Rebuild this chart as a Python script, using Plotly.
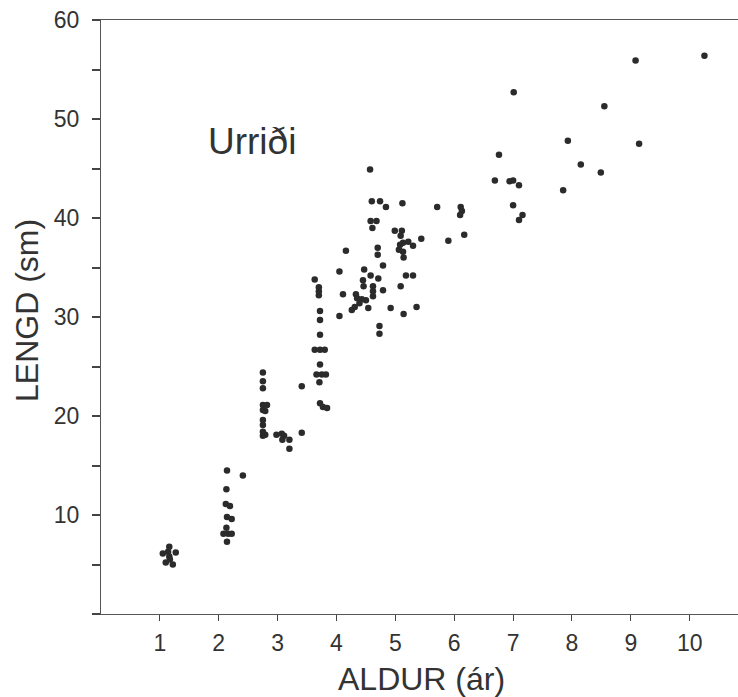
import plotly.graph_objects as go

# Age (years) and length (cm) of trout
age_1 = [1.16, 1.05, 1.14, 1.27, 1.16, 1.10, 1.22, 1.17]
len_1 = [6.8, 6.1, 6.3, 6.2, 5.8, 5.2, 5.0, 5.5]

age_2 = [2.14, 2.41, 2.13, 2.12, 2.19, 2.14, 2.22, 2.13, 2.08, 2.16, 2.22, 2.14]
len_2 = [14.5, 14.0, 12.6, 11.1, 10.9, 9.8, 9.6, 8.7, 8.1, 8.1, 8.1, 7.3]

age_3 = [2.75, 2.75, 2.75, 2.75, 2.82, 2.75, 2.79, 2.75, 2.75, 2.75, 2.79, 2.75,
         2.98, 3.07, 3.11, 3.08, 3.20, 3.20, 3.41, 3.41]
len_3 = [24.4, 23.5, 22.8, 21.1, 21.1, 20.6, 20.5, 19.6, 19.1, 18.4, 18.1, 18.0,
         18.1, 18.2, 18.0, 17.6, 17.6, 16.7, 18.3, 23.0]

age_4 = [3.63, 3.70, 3.70, 3.70, 3.72, 3.72, 3.72, 3.63, 3.72, 3.80, 3.72, 3.66,
         3.75, 3.82, 3.71, 3.72, 3.77, 3.84]
len_4 = [33.8, 33.0, 32.6, 32.2, 30.6, 29.7, 28.2, 26.7, 26.7, 26.7, 25.2, 24.2,
         24.2, 24.2, 23.4, 21.3, 20.9, 20.8]

age_5 = [4.57, 4.60, 4.74, 4.84, 5.12, 4.58, 4.68, 4.61, 4.99, 5.11, 5.09, 5.44,
         5.08, 5.13, 5.22, 5.30, 5.06, 5.13, 5.14, 4.16, 4.70, 4.70, 4.79, 4.05,
         4.47, 4.58, 4.71, 5.18, 5.30, 4.45, 4.46, 4.62, 4.62, 4.62, 4.79, 5.09,
         4.11, 4.33, 4.35, 4.43, 4.50, 4.39, 4.31, 4.26, 4.54, 4.92, 5.36, 4.05,
         5.14, 4.73, 4.73]
len_5 = [44.9, 41.7, 41.7, 41.1, 41.5, 39.7, 39.7, 39.0, 38.7, 38.7, 38.2, 37.9,
         37.3, 37.5, 37.6, 37.2, 36.8, 36.6, 36.0, 36.7, 37.0, 36.3, 35.2, 34.6,
         34.8, 34.2, 33.9, 34.2, 34.2, 33.7, 33.1, 33.1, 32.6, 32.1, 32.7, 33.1,
         32.3, 32.3, 31.9, 31.8, 31.7, 31.4, 31.0, 30.7, 30.9, 30.9, 31.0, 30.1,
         30.3, 29.1, 28.3]

age_6 = [5.71, 5.90, 6.11, 6.13, 6.10, 6.17,
         6.76, 6.69, 6.94, 7.00, 7.10, 7.00, 7.16, 7.10, 7.01]
len_6 = [41.1, 37.7, 41.1, 40.7, 40.3, 38.3,
         46.4, 43.8, 43.7, 43.8, 43.3, 41.3, 40.3, 39.8, 52.7]

age_old = [7.85, 7.93, 8.15, 8.49, 8.55, 9.08, 9.14, 10.25]
len_old = [42.8, 47.8, 45.4, 44.6, 51.3, 55.9, 47.5, 56.4]

ages = age_1 + age_2 + age_3 + age_4 + age_5 + age_6 + age_old
lengths = len_1 + len_2 + len_3 + len_4 + len_5 + len_6 + len_old

x_ticks = [1, 2, 3, 4, 5, 6, 7, 8, 9, 10]
y_ticks = [10, 20, 30, 40, 50, 60]

FONT = "Liberation Sans, Arial, Helvetica, sans-serif"
INK = "#2b2b2b"
TXT = "#333333"

fig = go.Figure()
fig.add_trace(go.Scatter(
    x=ages, y=lengths, mode="markers",
    marker=dict(size=6.5, color=INK, line=dict(width=0)),
    showlegend=False, hoverinfo="x+y",
))

fig.update_layout(
    width=738, height=697,
    margin=dict(l=101, r=0, t=20, b=83),
    paper_bgcolor="white", plot_bgcolor="white",
    font=dict(family=FONT, color=TXT),
    xaxis=dict(
        range=[0, 10.82], tickvals=x_ticks, ticktext=[str(v) for v in x_ticks],
        ticks="outside", ticklen=6, tickwidth=1.3, tickcolor="#444444",
        showline=True, linecolor="#555555", linewidth=1, mirror=True,
        showgrid=False, zeroline=False, ticklabelstandoff=2,
        tickfont=dict(size=23, family=FONT, color=TXT),
    ),
    yaxis=dict(
        range=[0, 60], tickvals=y_ticks, ticktext=[str(v) for v in y_ticks],
        ticks="outside", ticklen=8, tickwidth=1.6, tickcolor="#444444",
        minor=dict(dtick=5, tick0=0, ticks="outside", ticklen=8, tickwidth=1.6,
                   tickcolor="#444444", showgrid=False),
        showline=True, linecolor="#555555", linewidth=1, mirror=False,
        showgrid=False, zeroline=False, ticklabelstandoff=8,
        tickfont=dict(size=23, family=FONT, color=TXT),
    ),
    annotations=[
        dict(text="Urriði", xref="paper", yref="paper",
             x=(252 - 101) / 637, y=(614 - 141) / 594,
             xanchor="center", yanchor="middle", showarrow=False,
             font=dict(size=37, family=FONT, color=TXT)),
        dict(text="ALDUR (ár)", xref="paper", yref="paper",
             x=(421 - 101) / 637, y=(614 - 679) / 594,
             xanchor="center", yanchor="middle", showarrow=False,
             font=dict(size=32, family=FONT, color=TXT)),
        dict(text="LENGD (sm)", xref="paper", yref="paper",
             x=(27 - 101) / 637, y=(614 - 311) / 594, textangle=-90,
             xanchor="center", yanchor="middle", showarrow=False,
             font=dict(size=32, family=FONT, color=TXT)),
    ],
)

fig.write_html("out.html")
